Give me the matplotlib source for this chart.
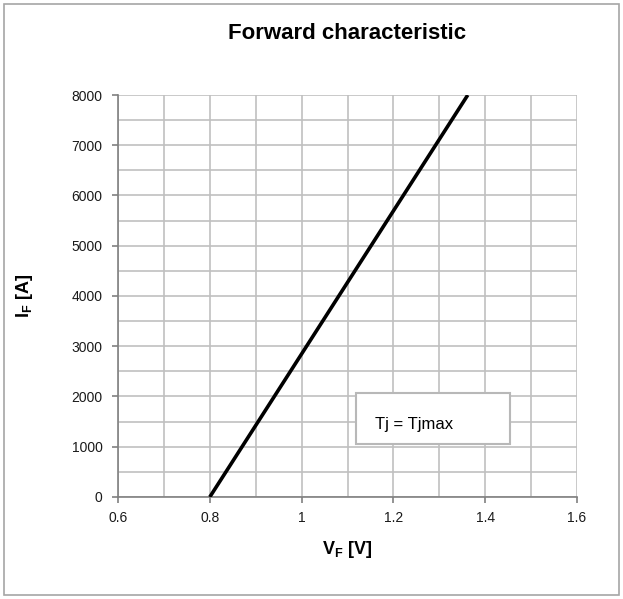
import numpy as np
import matplotlib.pyplot as plt
from matplotlib.patches import Rectangle

plt.rcParams['font.family'] = ['Liberation Sans', 'DejaVu Sans']
plt.rcParams['mathtext.fontset'] = 'custom'
plt.rcParams['mathtext.rm'] = 'Liberation Sans'
plt.rcParams['mathtext.bf'] = 'Liberation Sans:bold'

# DANE
vf = [0.8, 1.362]      # V_F [V]
i_f = [0, 8000]        # I_F [A]
x_ticks = [0.6, 0.8, 1.0, 1.2, 1.4, 1.6]
x_labels = ['0.6', '0.8', '1', '1.2', '1.4', '1.6']
y_ticks = [0, 1000, 2000, 3000, 4000, 5000, 6000, 7000, 8000]

fig = plt.figure(figsize=(6.23, 5.99), dpi=100)
fig.patches.append(Rectangle((0.006, 0.006), 0.988, 0.988, transform=fig.transFigure,
                             fill=False, edgecolor='#a6a6a6', linewidth=1.2))
ax = fig.add_axes([0.1894, 0.1703, 0.7368, 0.6711])

ax.plot(vf, i_f, color='black', linewidth=2.6, solid_capstyle='butt', zorder=3)

ax.set_xlim(0.6, 1.6)
ax.set_ylim(0, 8000)
ax.set_xticks(x_ticks)
ax.set_xticklabels(x_labels)
ax.set_yticks(y_ticks)
ax.set_xticks(np.arange(0.7, 1.6, 0.2), minor=True)
ax.set_yticks(np.arange(500, 8000, 1000), minor=True)
ax.grid(True, which='both', color='#c0c0c0', linewidth=1.2)
ax.set_axisbelow(True)

for s in ['top', 'right']:
    ax.spines[s].set_visible(False)
for s in ['left', 'bottom']:
    ax.spines[s].set_color('#808080')
    ax.spines[s].set_linewidth(1.2)
ax.tick_params(which='major', direction='out', length=4, color='#808080', width=1.2,
               labelsize=10, labelcolor='#1a1a1a')
ax.tick_params(axis='y', pad=7)
ax.tick_params(axis='x', pad=6)
ax.tick_params(which='minor', length=0)

ax.set_title('Forward characteristic', fontsize=16, fontweight='bold', pad=40)
ax.set_xlabel(r'$\mathbf{V_F}$ [V]', fontsize=13, fontweight='bold', labelpad=10)
ax.set_ylabel(r'$\mathbf{I_F}$ [A]', fontsize=13, fontweight='bold')
ax.yaxis.set_label_coords(-0.18, 0.5)

# ramka z opisem
ax.add_patch(Rectangle((0.5185, 0.132), 0.3355, 0.1267, transform=ax.transAxes,
                       facecolor='white', edgecolor='#b8b8b8', linewidth=1.5, zorder=4))
ax.text(0.56, 0.18, 'Tj = Tjmax', fontsize=12, va='center', ha='left', zorder=5,
        transform=ax.transAxes)

fig.savefig('out.png', dpi=100)
